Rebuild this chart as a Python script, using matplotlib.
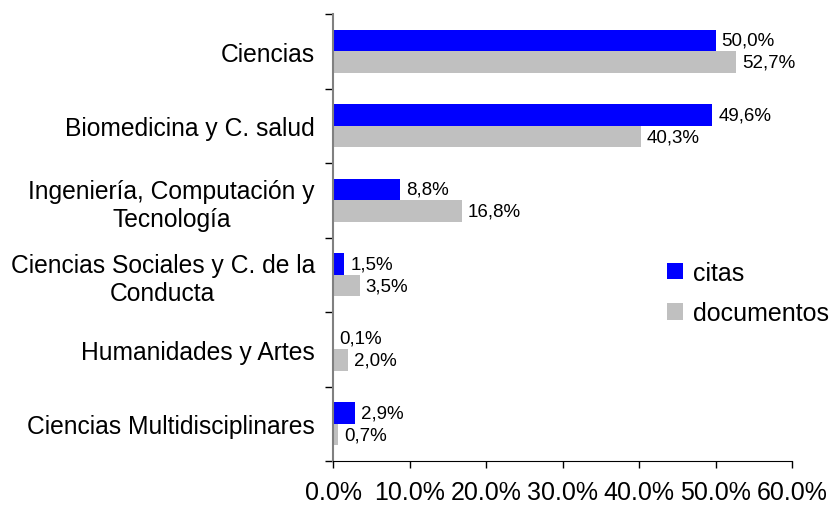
import matplotlib
matplotlib.use("Agg")
import matplotlib.pyplot as plt
import numpy as np
from matplotlib.ticker import FixedLocator, FuncFormatter

categories = ["Ciencias", "Biomedicina y C. salud", "Ingeniería, Computación y\nTecnología",
              "Ciencias Sociales y C. de la\nConducta", "Humanidades y Artes",
              "Ciencias Multidisciplinares"]
citas = [50.0, 49.6, 8.8, 1.5, 0.1, 2.9]
documentos = [52.7, 40.3, 16.8, 3.5, 2.0, 0.7]
x_ticks = [0, 10, 20, 30, 40, 50, 60]

plt.rcParams['font.family'] = ['Liberation Sans', 'DejaVu Sans']

fig = plt.figure(figsize=(8.3, 5.06), dpi=100)
ax = fig.add_axes([333/830, 44/506, (792-333)/830, (462-15)/506])

y = np.arange(len(categories))
h = 0.29
blue = "#0000FF"
gray = "#C0C0C0"
ax.barh(y - h/2, citas, height=h, color=blue, label="citas")
ax.barh(y + h/2, documentos, height=h, color=gray, label="documentos")

def fmt(v):
    return f"{v:.1f}%".replace(".", ",")

for yi, c, d in zip(y, citas, documentos):
    ax.text(c + 0.75, yi - h/2, fmt(c), va="center", ha="left", fontsize=13.5)
    ax.text(d + 0.75, yi + h/2, fmt(d), va="center", ha="left", fontsize=13.5)

ax.set_xlim(0, 60)
ax.set_ylim(len(categories) - 0.5, -0.5)
ax.set_xticks(x_ticks)
ax.xaxis.set_major_formatter(FuncFormatter(lambda v, p: f"{v:.1f}%"))
ax.tick_params(axis="x", direction="out", length=5, width=1, pad=8.5, labelsize=18, colors="black")

ax.set_yticks(y)
ax.set_yticklabels(categories, fontsize=17.7, multialignment="center")
ax.tick_params(axis="y", which="major", length=0, pad=13)
ax.yaxis.set_minor_locator(FixedLocator(np.arange(-0.5, len(categories), 1.0)))
ax.tick_params(axis="y", which="minor", length=6, width=1, color="black")

for s in ["top", "right"]:
    ax.spines[s].set_visible(False)
ax.spines["left"].set_color("#808080")
ax.spines["left"].set_linewidth(1.5)
ax.spines["bottom"].set_color("black")

leg = ax.legend(loc="upper left", bbox_to_anchor=(0.705, 0.47), frameon=False,
                fontsize=18, handlelength=0.65, handleheight=0.65, handletextpad=0.4,
                labelspacing=0.65, borderaxespad=0)

fig.savefig("out.png", dpi=100)
